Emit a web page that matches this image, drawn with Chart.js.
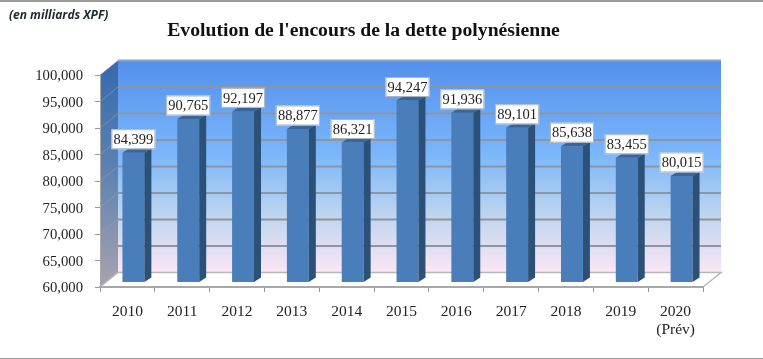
<!DOCTYPE html>
<html>
<head>
<meta charset="utf-8">
<title>Encours de la dette</title>
<script src="https://cdn.jsdelivr.net/npm/chart.js@4/dist/chart.umd.min.js"></script>
<style>
    html, body { margin: 0; padding: 0; background: #fff; overflow: hidden; }
    #frame { position: relative; width: 763px; height: 359px; }
    #frame:before { content: ""; position: absolute; left: -3px; top: 0; width: 764px; height: 356px; border: 2px solid #9a9a9a; }
    #unit { position: absolute; left: 9px; top: 6px; font: italic bold 12px "Open Sans", sans-serif; color: #1f2a33; }
    canvas { position: absolute; left: 0; top: 0; }
</style>
</head>
<body>
<div id="frame">
    <canvas id="dette" width="763" height="359"></canvas>
    <div id="unit">(en milliards XPF)</div>
</div>
<script>
const years = ['2010', '2011', '2012', '2013', '2014', '2015', '2016', '2017', '2018', '2019', ['2020', '(Prév)']];
const encours = [84399, 90765, 92197, 88877, 86321, 94247, 91936, 89101, 85638, 83455, 80015];
const yMin = 60000;
const yMax = 100000;
const yStep = 5000;

// depth of the box and of the bars, the 3D look is faked on the canvas
const boxDx = 18, boxDy = -14.5;
const barDx = 6, barDy = -5;
const sideDx = 7, sideDy = -4.5;
const serif = '"Liberation Serif", serif';

const fmt = v => v.toLocaleString('en-US');

function poly(ctx, pts, fill) {
    ctx.beginPath();
    pts.forEach((p, i) => i ? ctx.lineTo(p[0], p[1]) : ctx.moveTo(p[0], p[1]));
    ctx.closePath();
    ctx.fillStyle = fill;
    ctx.fill();
}

const box3d = {
    id: 'box3d',
    beforeDatasetsDraw(chart) {
        const {ctx, chartArea: a, scales: {y}} = chart;
        ctx.save();

        // back wall
        const wall = ctx.createLinearGradient(0, a.top + boxDy, 0, a.bottom + boxDy);
        wall.addColorStop(0, '#5290ec');
        wall.addColorStop(0.45, '#7cb7fb');
        wall.addColorStop(0.72, '#bcd4ee');
        wall.addColorStop(1, '#fbe6f6');
        ctx.fillStyle = wall;
        ctx.fillRect(a.left + boxDx, a.top + boxDy, a.width, a.height);

        // left wall
        const side = ctx.createLinearGradient(0, a.top, 0, a.bottom);
        side.addColorStop(0, '#3b6cb0');
        side.addColorStop(0.45, '#5d82b0');
        side.addColorStop(1, '#aaa2ae');
        poly(ctx, [[a.left, a.top], [a.left + boxDx, a.top + boxDy], [a.left + boxDx, a.bottom + boxDy], [a.left, a.bottom]], side);

        // floor outline
        ctx.strokeStyle = '#b5b8bc';
        ctx.lineWidth = 1.5;
        ctx.beginPath();
        ctx.moveTo(a.left, a.bottom);
        ctx.lineTo(a.left + boxDx, a.bottom + boxDy);
        ctx.lineTo(a.right + boxDx, a.bottom + boxDy);
        ctx.lineTo(a.right, a.bottom);
        ctx.stroke();

        // gridlines follow the walls
        y.ticks.forEach(t => {
            const py = y.getPixelForValue(t.value);
            if (t.value === yMin) return;
            ctx.lineWidth = 2;
            ctx.strokeStyle = t.value === yMax ? '#8fa3bd' : '#8d95a3';
            ctx.beginPath();
            ctx.moveTo(a.left + boxDx, py + boxDy);
            ctx.lineTo(a.right + boxDx, py + boxDy);
            ctx.stroke();
            ctx.lineWidth = 1;
            ctx.strokeStyle = 'rgba(150, 160, 175, 0.55)';
            ctx.beginPath();
            ctx.moveTo(a.left, py);
            ctx.lineTo(a.left + boxDx, py + boxDy);
            ctx.stroke();
        });
        ctx.restore();

        // bars stand in the middle of the box
        ctx.save();
        ctx.translate(barDx, barDy);
    },
    afterDatasetsDraw(chart) {
        const ctx = chart.ctx;
        const bars = chart.getDatasetMeta(0).data;
        // the element base is the pixel of value 0, far under the axis
        const base = chart.scales.y.getPixelForValue(yMin);

        bars.forEach(b => {
            const l = b.x - b.width / 2, r = b.x + b.width / 2;
            poly(ctx, [[r, b.y], [r + sideDx, b.y + sideDy], [r + sideDx, base + sideDy], [r, base]], '#2c5179');
            poly(ctx, [[l, b.y], [l + sideDx, b.y + sideDy], [r + sideDx, b.y + sideDy], [r, b.y]], '#3a659b');
        });
        ctx.restore();

        // value labels
        ctx.save();
        ctx.font = '14.5px ' + serif;
        ctx.textAlign = 'center';
        ctx.textBaseline = 'middle';
        bars.forEach((b, i) => {
            const cx = b.x + barDx, bottom = b.y + barDy + sideDy + 1;
            ctx.fillStyle = '#fff';
            ctx.fillRect(cx - 22, bottom - 20, 44, 20);
            ctx.strokeStyle = '#a9b4c0';
            ctx.lineWidth = 1;
            ctx.strokeRect(cx - 22 + 0.5, bottom - 20 + 0.5, 43, 19);
            ctx.fillStyle = '#222';
            ctx.fillText(fmt(encours[i]), cx, bottom - 9);
        });
        ctx.restore();
    }
};

new Chart(document.getElementById('dette'), {
    type: 'bar',
    data: {
        labels: years,
        datasets: [{
            data: encours,
            backgroundColor: '#4a7ebb',
            categoryPercentage: 0.8,
            barPercentage: 0.5
        }]
    },
    options: {
        responsive: false,
        animation: false,
        layout: {padding: {top: 19, right: 60, left: 24, bottom: 0}},
        plugins: {
            legend: {display: false},
            tooltip: {enabled: false},
            title: {
                display: true,
                text: "Evolution de l'encours de la dette polynésienne",
                color: '#111',
                font: {family: serif, size: 19.7, weight: 'bold', lineHeight: 1.2},
                padding: {top: 0, bottom: 32.4}
            }
        },
        scales: {
            x: {
                afterFit: s => { s.height = 72; },
                grid: {drawOnChartArea: false, tickLength: 5, color: '#9a9a9a', offset: true},
                border: {color: '#a8a8a8', width: 2, z: 1},
                ticks: {
                    color: '#222',
                    padding: 11,
                    maxRotation: 0,
                    autoSkip: false,
                    font: {family: serif, size: 15.5, lineHeight: 1.15}
                }
            },
            y: {
                min: yMin,
                max: yMax,
                afterFit: s => { s.width = 76; },
                grid: {drawOnChartArea: false, tickLength: 5, color: '#9a9a9a'},
                border: {color: '#a8a8a8', width: 1, z: 1},
                ticks: {
                    stepSize: yStep,
                    color: '#222',
                    padding: 12,
                    labelOffset: 1.5,
                    font: {family: serif, size: 14.7},
                    callback: v => fmt(v)
                }
            }
        }
    },
    plugins: [box3d]
});
</script>
</body>
</html>
